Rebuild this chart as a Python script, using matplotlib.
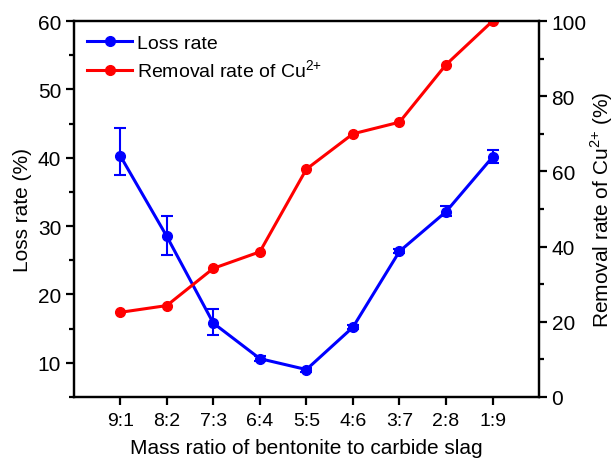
import matplotlib.pyplot as plt
from matplotlib.lines import Line2D
from matplotlib.ticker import MultipleLocator

plt.rcParams['font.family'] = ['Liberation Sans', 'DejaVu Sans']

ratios = ['9:1', '8:2', '7:3', '6:4', '5:5', '4:6', '3:7', '2:8', '1:9']
loss_rate = [40.3, 28.5, 15.8, 10.6, 9.0, 15.2, 26.3, 32.1, 40.1]
loss_err_lo = [2.8, 2.7, 1.8, 0.4, 0.3, 0.3, 0.3, 0.6, 0.8]
loss_err_hi = [4.1, 3.0, 2.1, 0.4, 0.3, 0.3, 0.3, 0.9, 1.0]
removal_rate = [22.5, 24.3, 34.2, 38.6, 60.6, 70.0, 73.1, 88.4, 100.0]

x = list(range(1, len(ratios) + 1))
cu = r'Cu$^{\mathregular{2{+}}}$'

fig, ax = plt.subplots(figsize=(6.14, 4.6), dpi=100)
fig.subplots_adjust(left=0.12, right=0.878, top=0.952, bottom=0.135)
ax2 = ax.twinx()

ax.errorbar(x, loss_rate, yerr=[loss_err_lo, loss_err_hi], color='#0000ff',
            marker='o', markersize=7, linewidth=2.2, capsize=4, elinewidth=1.5,
            capthick=1.5, zorder=3)
ax2.plot(x, removal_rate, color='#ff0000', marker='o', markersize=7, linewidth=2.2)

ax.set_xlim(0, 10)
ax.set_ylim(5, 60)
ax2.set_ylim(0, 100)
ax.set_xticks(x)
ax.set_xticklabels(ratios)
ax.yaxis.set_major_locator(MultipleLocator(10))
ax.yaxis.set_minor_locator(MultipleLocator(5))
ax2.yaxis.set_major_locator(MultipleLocator(20))
ax2.yaxis.set_minor_locator(MultipleLocator(10))

for a in (ax, ax2):
    for s in a.spines.values():
        s.set_linewidth(1.6)
    a.tick_params(which='major', direction='out', length=6, width=1.6, labelsize=15, pad=3)
    a.tick_params(which='minor', direction='out', length=3.5, width=1.6)
ax.tick_params(axis='x', labelsize=14, pad=5)

ax.set_xlabel('Mass ratio of bentonite to carbide slag', fontsize=15, labelpad=6)
ax.set_ylabel('Loss rate (%)', fontsize=15, labelpad=4)
ax2.set_ylabel('Removal rate of ' + cu + ' (%)', fontsize=15, labelpad=1)

handles = [Line2D([], [], color='#0000ff', marker='o', markersize=7, linewidth=2.2),
           Line2D([], [], color='#ff0000', marker='o', markersize=7, linewidth=2.2)]
ax.legend(handles, ['Loss rate', 'Removal rate of ' + cu], loc='upper left',
          frameon=False, fontsize=14, handlelength=2.3, borderaxespad=0.3,
          handletextpad=0.25, labelspacing=0.3)

fig.savefig('out.png', dpi=100)
